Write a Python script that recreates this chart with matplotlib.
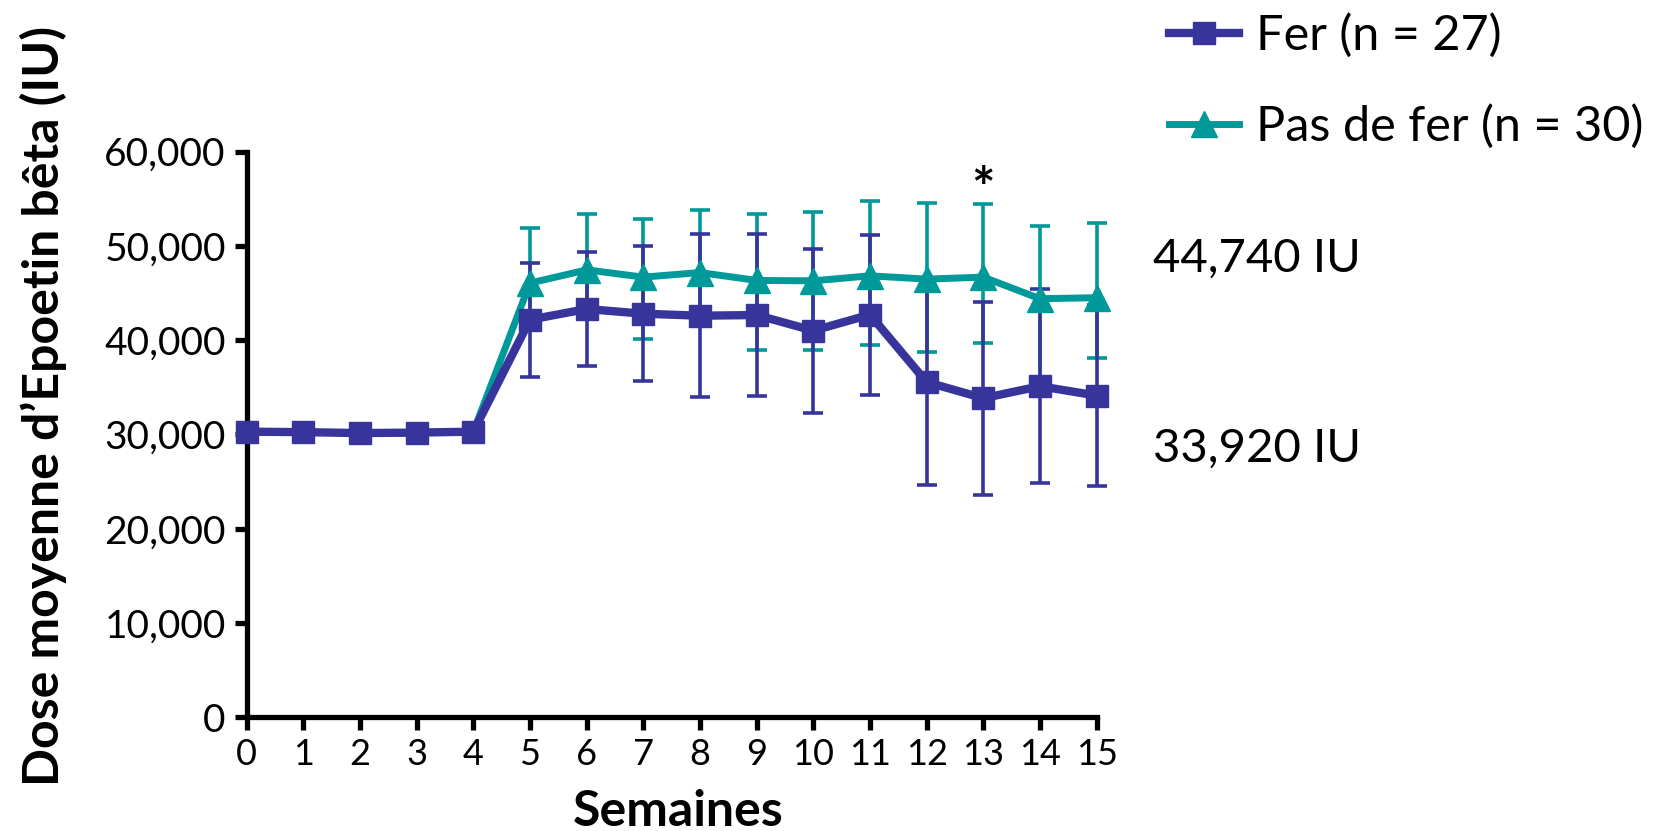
import matplotlib
matplotlib.use('Agg')
import matplotlib.pyplot as plt
from matplotlib.lines import Line2D
from matplotlib.ticker import FuncFormatter

plt.rcParams['font.family'] = ['Lato', 'DejaVu Sans']

# weekly mean Epoetin beta dose (IU)
weeks = list(range(16))
ferMean = [30300, 30250, 30150, 30200, 30300, 42180, 43310, 42810, 42600,
           42670, 41010, 42710, 35560, 33850, 35120, 34130]
ferSd = [0, 0, 0, 0, 0, 6040, 6015, 7165, 8645, 8590, 8710, 8480, 10940,
         10220, 10280, 9610]
noFerMean = [30300, 30250, 30150, 30200, 30300, 46060, 47460, 46690, 47180,
             46340, 46300, 46830, 46480, 46690, 44400, 44510]
noFerErrLo = [0, 0, 0, 0, 0, 3760, 4060, 6580, 4480, 7330, 7370, 7390, 7700,
              7020, 9000, 6410]
noFerErrHi = [0, 0, 0, 0, 0, 5850, 5880, 6210, 6600, 7000, 7260, 7940, 8070,
              7750, 7730, 7950]

ferLabel = 'Fer (n = 27)'
noFerLabel = 'Pas de fer (n = 30)'
endLabels = ['44,740 IU', '33,920 IU']
sigWeek = 13

clrFer = '#37349b'
clrNoFer = '#00999a'

fig = plt.figure(figsize=(16.59, 8.31), dpi=100)
ax = fig.add_axes([0.1487, 0.1368, 0.5123, 0.6807])

# only weeks with a visible spread get error bars / triangles
idx = [i for i in weeks if ferSd[i] > 0]
ax.errorbar([weeks[i] for i in idx], [noFerMean[i] for i in idx],
            yerr=[[noFerErrLo[i] for i in idx], [noFerErrHi[i] for i in idx]],
            fmt='none', ecolor=clrNoFer, elinewidth=2.6, capsize=7.5,
            capthick=2.6, zorder=2, clip_on=False)
ax.errorbar([weeks[i] for i in idx], [ferMean[i] for i in idx],
            yerr=[ferSd[i] for i in idx],
            fmt='none', ecolor=clrFer, elinewidth=2.6, capsize=7.5,
            capthick=2.6, zorder=3, clip_on=False)

ax.plot(weeks, noFerMean, color=clrNoFer, lw=5, marker='^', ms=19,
        markevery=idx, zorder=4, clip_on=False)
ax.plot(weeks, ferMean, color=clrFer, lw=6, marker='s', ms=16,
        zorder=5, clip_on=False)

ax.set_xlim(0, 15)
ax.set_ylim(0, 60000)
ax.set_xticks(weeks)
ax.set_yticks(range(0, 60001, 10000))
ax.yaxis.set_major_formatter(FuncFormatter(lambda v, p: '{:,}'.format(int(v))))
ax.tick_params(axis='both', direction='out', length=9, width=3.8, pad=6)
ax.tick_params(axis='x', labelsize=26)
ax.tick_params(axis='y', labelsize=28)
for s in ['top', 'right']:
    ax.spines[s].set_visible(False)
for s in ['left', 'bottom']:
    ax.spines[s].set_linewidth(3.8)
    ax.spines[s].set_capstyle('projecting')

# significance marker
ax.text(sigWeek, noFerMean[sigWeek] + noFerErrHi[sigWeek] - 1300, '*',
        ha='center', va='bottom', fontsize=40, fontweight='bold')

fig.text(43 / 1659, 1 - 406 / 831, "Dose moyenne d\u2019Epoetin b\u00eata (IU)",
         rotation=90, ha='center', va='center', fontsize=36, fontweight='bold')
fig.text(678 / 1659, 1 - 811 / 831, 'Semaines', ha='center', va='center',
         fontsize=36, fontweight='bold')

fig.text(1153 / 1659, 1 - 259 / 831, endLabels[0], ha='left', va='center',
         fontsize=34)
fig.text(1153 / 1659, 1 - 449 / 831, endLabels[1], ha='left', va='center',
         fontsize=34)

handles = [
    Line2D([], [], color=clrFer, lw=6, marker='s', ms=16),
    Line2D([], [], color=clrNoFer, lw=5, marker='^', ms=19),
]
fig.legend(handles, [ferLabel, noFerLabel], loc='upper left',
           bbox_to_anchor=(1164 / 1659, 0.99), frameon=False, fontsize=35,
           handlelength=1.45, handletextpad=0.35, labelspacing=0.95,
           borderpad=0.1, borderaxespad=0.0)

fig.savefig('out.png', dpi=100)
plt.close()
